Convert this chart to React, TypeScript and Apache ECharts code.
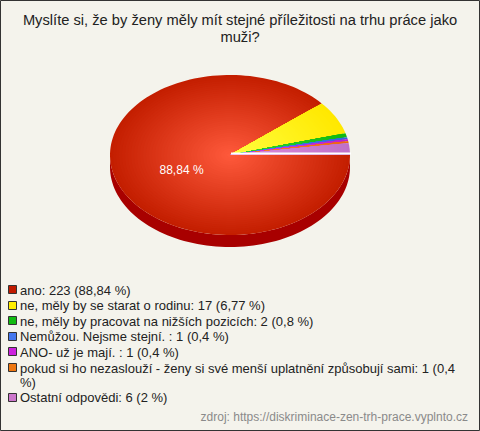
import React, { useEffect, useRef } from "react";
import * as echarts from "echarts";

const titleText = "Myslíte si, že by ženy měly mít stejné příležitosti na trhu práce jako muži?";
const sourceText = "zdroj: https://diskriminace-zen-trh-prace.vyplnto.cz";
const categories = [
  "ano",
  "ne, měly by se starat o rodinu",
  "ne, měly by pracovat na nižších pozicích",
  "Nemůžou. Nejsme stejní. ",
  "ANO- už je mají. ",
  "pokud si ho nezaslouží - ženy si své menší uplatnění způsobují sami",
  "Ostatní odpovědi",
];
const counts = [223, 17, 2, 1, 1, 1, 6];
const percents = ["88,84", "6,77", "0,8", "0,4", "0,4", "0,4", "2"];
const legendColors = ["#c01a00", "#ffee00", "#11bb11", "#4477ee", "#cc22dd", "#ee7711", "#cc77cc"];
const innerColors = ["#ff5a3c", "#ffff40", "#33dd33", "#5588ff", "#dd44ee", "#ff8833", "#dd90dd"];
const outerColors = ["#c41e00", "#ffe800", "#11b811", "#3366dd", "#bb22cc", "#ee6611", "#c070c8"];
const sideColors = ["#a80000", "#ccbb00", "#0a880a", "#2244aa", "#881199", "#aa4400", "#995599"];

const FONT = '"Liberation Sans", Arial, sans-serif';

function hexToRgb(h: string) {
  const n = parseInt(h.slice(1), 16);
  return [(n >> 16) & 255, (n >> 8) & 255, n & 255];
}
function lerpColor(a: string, b: string, t: number) {
  const A = hexToRgb(a), B = hexToRgb(b);
  const c = A.map((v, k) => Math.round(v + (B[k] - v) * t));
  return `rgb(${c[0]},${c[1]},${c[2]})`;
}

export default function App() {
  const ref = useRef<HTMLDivElement>(null);
  useEffect(() => {
    if (!ref.current) return;
    const chart = echarts.init(ref.current, null, { renderer: "svg" });

    const ctx = document.createElement("canvas").getContext("2d")!;
    const wrap = (text: string, font: string, maxW: number) => {
      ctx.font = font;
      const words = text.split(" ");
      const lines: string[] = [];
      let cur = "";
      words.forEach((w, idx) => {
        const test = idx === 0 ? w : cur + " " + w;
        if (idx > 0 && ctx.measureText(test).width > maxW && cur.trim() !== "") {
          lines.push(cur);
          cur = w;
        } else {
          cur = test;
        }
      });
      lines.push(cur);
      return lines;
    };

    const W = 480;
    const cx = 230, cy = 155, Rx = 120, Ry = 80, depth = 12;
    const total = counts.reduce((a, b) => a + b, 0);
    const spans = counts.map((c) => (c / total) * Math.PI * 2);
    const starts: number[] = [];
    spans.reduce((acc, s) => { starts.push(acc); return acc + s; }, 0);

    const sideRender = (params: any) => {
      const i = params.dataIndex;
      const a0 = starts[i], a1 = starts[i] + spans[i];
      const s = Math.max(a0, 0), e = Math.min(a1, Math.PI);
      if (e <= s) return { type: "group", children: [] };
      const pts: number[][] = [];
      const n = 80;
      for (let k = 0; k <= n; k++) {
        const t = s + ((e - s) * k) / n;
        pts.push([cx + Rx * Math.cos(t), cy + Ry * Math.sin(t)]);
      }
      for (let k = n; k >= 0; k--) {
        const t = s + ((e - s) * k) / n;
        pts.push([cx + Rx * Math.cos(t), cy + Ry * Math.sin(t) + depth]);
      }
      return { type: "polygon", shape: { points: pts }, style: { fill: sideColors[i] } };
    };

    const BANDS = 40;
    const topRender = (params: any) => {
      const i = params.dataIndex;
      const a0 = starts[i], a1 = starts[i] + spans[i];
      const nArc = Math.max(4, Math.ceil((a1 - a0) / (Math.PI * 2) * 160));
      const children: any[] = [];
      for (let k = BANDS; k >= 1; k--) {
        const f = k / BANDS;
        const pts: number[][] = [[cx, cy]];
        for (let j = 0; j <= nArc; j++) {
          const t = a0 + ((a1 - a0) * j) / nArc;
          pts.push([cx + Rx * f * Math.cos(t), cy + Ry * f * Math.sin(t)]);
        }
        children.push({
          type: "polygon",
          shape: { points: pts },
          style: { fill: lerpColor(innerColors[i], outerColors[i], f) },
        });
      }
      if (counts[i] / total > 0.1) {
        const mid = (a0 + a1) / 2;
        children.push({
          type: "text",
          x: cx + 0.43 * Rx * Math.cos(mid),
          y: cy + 0.43 * Ry * Math.sin(mid) + 3,
          style: {
            text: percents[i] + " %", fill: "#ffffff", font: "12px " + FONT,
            align: "center", verticalAlign: "middle",
          },
        });
      }
      if (i === counts.length - 1) {
        children.push({
          type: "line",
          shape: { x1: cx + 1, y1: cy - 1.5, x2: cx + Rx + 1, y2: cy - 1.5 },
          style: { stroke: "#ffffff", lineWidth: 2 },
        });
      }
      return { type: "group", children };
    };

    // legend layout
    const legendFont = "13px " + FONT;
    const maxW = 452;
    const legendEls: any[] = [];
    let y = 290;
    categories.forEach((c, i) => {
      const lines = wrap(`${c}: ${counts[i]} (${percents[i]} %)`, legendFont, maxW);
      legendEls.push({
        type: "rect",
        shape: { x: 8.5, y: Math.round(y) - 4.5, width: 8, height: 8 },
        style: { fill: legendColors[i], stroke: "#333333", lineWidth: 1 },
      });
      legendEls.push({
        type: "text",
        x: 20,
        y: y - 7,
        style: {
          text: lines.join("\n"), font: legendFont, fill: "#222222",
          verticalAlign: "top", lineHeight: 14,
        },
      });
      y += 15.6 + (lines.length - 1) * 14;
    });

    const titleFont = "14.7px " + FONT;
    const titleLines = wrap(titleText, titleFont, 445);

    chart.setOption({
      animation: false,
      backgroundColor: "#f4f3ec",
      series: [
        {
          type: "custom", coordinateSystem: "none", z: 1,
          data: counts.map((v, i) => [v, i]),
          renderItem: sideRender, silent: true,
        },
        {
          type: "custom", coordinateSystem: "none", z: 2,
          data: counts.map((v, i) => [v, i]),
          renderItem: topRender, silent: true,
        },
      ],
      graphic: [
        {
          type: "rect",
          shape: { x: 0.5, y: 0.5, width: W - 1, height: 430 },
          style: { fill: "none", stroke: "#333333", lineWidth: 1 },
        },
        {
          type: "text",
          x: 240,
          y: 11,
          style: {
            text: titleLines.join("\n"), font: titleFont, fill: "#222222",
            align: "center", verticalAlign: "top", lineHeight: 17,
          },
        },
        ...legendEls,
        {
          type: "text",
          x: 468,
          y: 417,
          style: {
            text: sourceText, font: "12px " + FONT, fill: "#8a8a8a",
            align: "right", verticalAlign: "middle",
          },
        },
      ],
    });
    return () => chart.dispose();
  }, []);
  return (
    <div
      ref={ref}
      style={{ position: "absolute", left: 0, top: 0, width: 480, height: 431 }}
    />
  );
}
